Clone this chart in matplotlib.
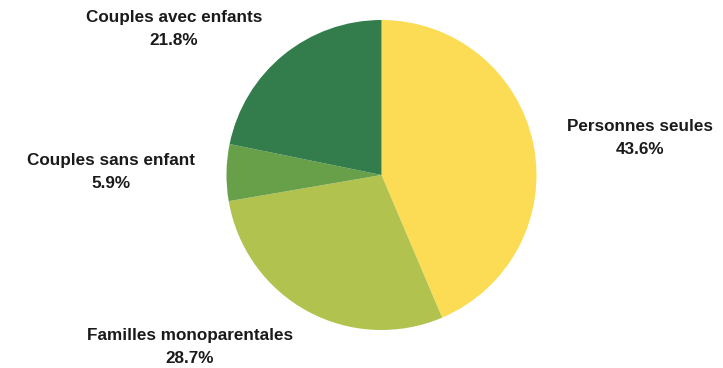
import matplotlib.pyplot as plt

labels = ["Personnes seules", "Familles monoparentales", "Couples sans enfant", "Couples avec enfants"]
shares = [43.6, 28.7, 5.9, 21.8]
colors = ["#FDDC55", "#B1C24F", "#67A048", "#327D4B"]

# label centres in pixels (x, y from top)
label_pos = [(640, 138), (190, 347), (111, 172), (174, 29)]

W, H = 723, 368
fig = plt.figure(figsize=(W / 100, H / 100), dpi=100)
cx, cy, r = 381.5, 175, 155
ax = fig.add_axes([(cx - r) / W, (H - cy - r) / H, 2 * r / W, 2 * r / H])
ax.pie(shares, colors=colors, startangle=90, counterclock=False, radius=1,
       wedgeprops=dict(linewidth=0))
ax.set_xlim(-1, 1)
ax.set_ylim(-1, 1)
ax.set_aspect("equal")
ax.axis("off")

for lab, val, (x, y) in zip(labels, shares, label_pos):
    fig.text(x / W, 1 - y / H, f"{lab}\n{val}%", ha="center", va="center",
             fontsize=12.3, fontweight="bold", family="Liberation Sans",
             linespacing=1.7, color="#1a1a1a")

fig.savefig("out.png", dpi=100, facecolor="white")
